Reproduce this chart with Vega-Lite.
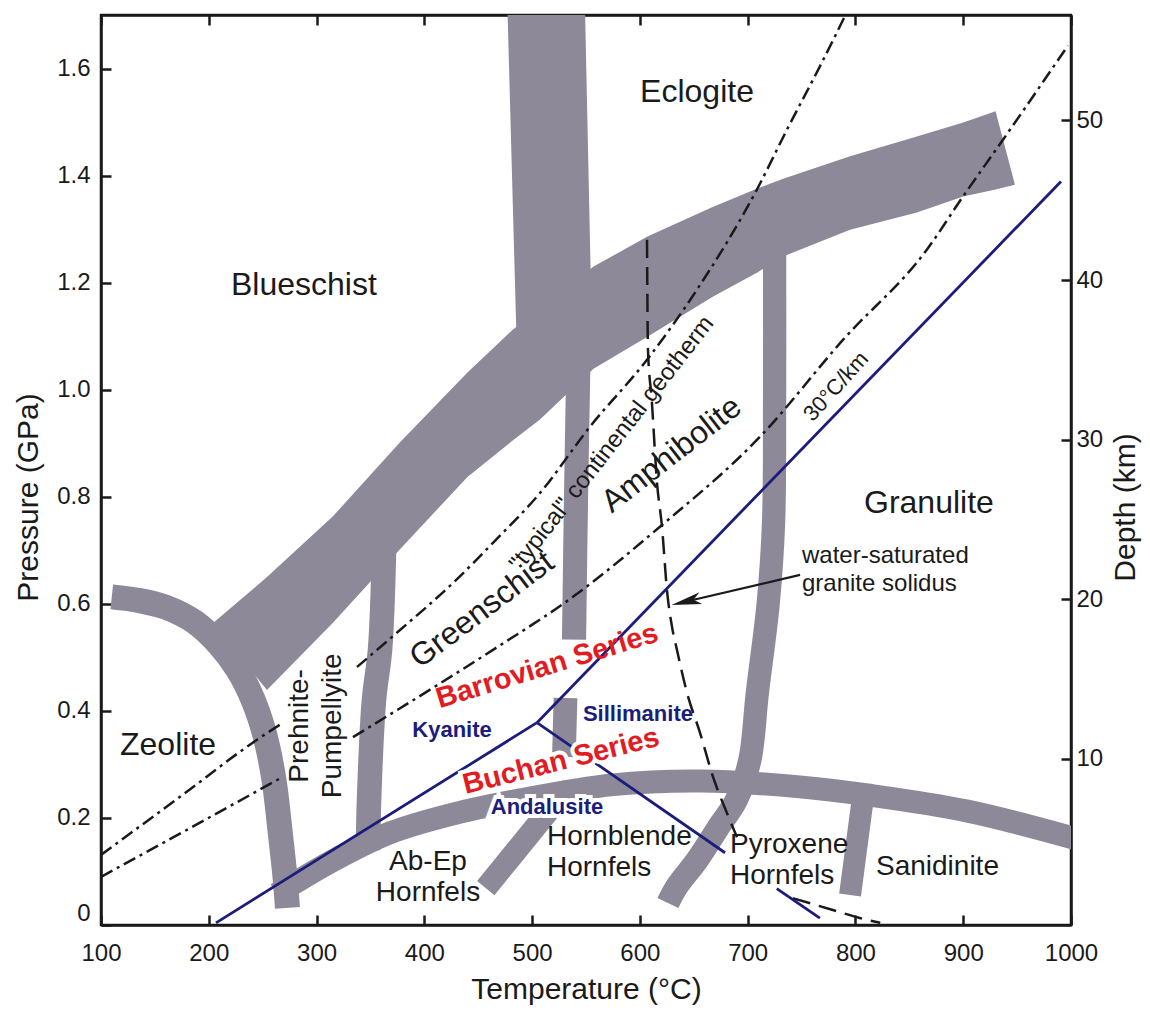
{
  "$schema": "https://vega.github.io/schema/vega-lite/v6.json",
  "width": 970,
  "height": 910,
  "autosize": {"type": "none"},
  "padding": {"left": 101, "top": 15, "right": 79, "bottom": 87},
  "background": "white",
  "config": {
    "view": {"stroke": "#1a1a1a", "strokeWidth": 2.5},
    "font": "Liberation Sans",
    "text": {"font": "Liberation Sans"}
  },
  "datasets": {
    "bigband": [
      {"T": 204, "lo": 0.564, "hi": 0.564},
      {"T": 254, "lo": 0.439, "hi": 0.650},
      {"T": 315, "lo": 0.564, "hi": 0.763},
      {"T": 377, "lo": 0.701, "hi": 0.901},
      {"T": 440, "lo": 0.837, "hi": 1.032},
      {"T": 482, "lo": 0.905, "hi": 1.112},
      {"T": 507, "lo": 0.944, "hi": 1.151},
      {"T": 557, "lo": 1.039, "hi": 1.230},
      {"T": 607, "lo": 1.099, "hi": 1.286},
      {"T": 668, "lo": 1.174, "hi": 1.342},
      {"T": 709, "lo": 1.219, "hi": 1.376},
      {"T": 733, "lo": 1.249, "hi": 1.394},
      {"T": 795, "lo": 1.299, "hi": 1.436},
      {"T": 857, "lo": 1.331, "hi": 1.473},
      {"T": 900, "lo": 1.361, "hi": 1.499},
      {"T": 930, "lo": 1.374, "hi": 1.520},
      {"T": 948, "lo": 1.383, "hi": 1.383}
    ],
    "eclband": [
      {"P": 1.72, "Tl": 477, "Tr": 549},
      {"P": 1.06, "Tl": 486, "Tr": 556}
    ],
    "bands": [
      {"b": "A", "T": 110, "P": 0.613},
      {"b": "A", "T": 136, "P": 0.606},
      {"b": "A", "T": 161, "P": 0.593},
      {"b": "A", "T": 187, "P": 0.566},
      {"b": "A", "T": 210, "P": 0.523},
      {"b": "A", "T": 227, "P": 0.477},
      {"b": "A", "T": 241, "P": 0.421},
      {"b": "A", "T": 252, "P": 0.355},
      {"b": "A", "T": 260.5, "P": 0.271},
      {"b": "A", "T": 266, "P": 0.178},
      {"b": "A", "T": 271, "P": 0.084},
      {"b": "A", "T": 273, "P": 0.032},
      {"b": "B2", "T": 362.6, "P": 0.70},
      {"b": "B2", "T": 358.9, "P": 0.514},
      {"b": "B2", "T": 353.3, "P": 0.421},
      {"b": "B2", "T": 348.7, "P": 0.234},
      {"b": "B2", "T": 347.7, "P": 0.14},
      {"b": "C1", "T": 543, "P": 1.06},
      {"b": "C1", "T": 540.7, "P": 0.794},
      {"b": "C1", "T": 538.9, "P": 0.533},
      {"b": "C2", "T": 531, "P": 0.424},
      {"b": "C2", "T": 529.5, "P": 0.314},
      {"b": "D", "T": 725, "P": 1.27},
      {"b": "D", "T": 725, "P": 1.0},
      {"b": "D", "T": 724, "P": 0.75},
      {"b": "D", "T": 719, "P": 0.60},
      {"b": "D", "T": 709, "P": 0.434},
      {"b": "D", "T": 702, "P": 0.308},
      {"b": "D", "T": 689.6, "P": 0.234},
      {"b": "D", "T": 673, "P": 0.183},
      {"b": "D", "T": 653, "P": 0.121},
      {"b": "D", "T": 634, "P": 0.071},
      {"b": "D", "T": 626, "P": 0.041},
      {"b": "E", "T": 263, "P": 0.058},
      {"b": "E", "T": 315, "P": 0.120},
      {"b": "E", "T": 368, "P": 0.172},
      {"b": "E", "T": 424, "P": 0.206},
      {"b": "E", "T": 489, "P": 0.234},
      {"b": "E", "T": 575, "P": 0.262},
      {"b": "E", "T": 656, "P": 0.269},
      {"b": "E", "T": 748.5, "P": 0.258},
      {"b": "E", "T": 811, "P": 0.243},
      {"b": "E", "T": 903.5, "P": 0.213},
      {"b": "E", "T": 1003, "P": 0.162},
      {"b": "F", "T": 457, "P": 0.069},
      {"b": "F", "T": 516, "P": 0.215},
      {"b": "G", "T": 807, "P": 0.239},
      {"b": "G", "T": 795, "P": 0.056}
    ],
    "geo": [
      {"g": "typical_a", "T": 100, "P": 0.131},
      {"g": "typical_a", "T": 173, "P": 0.239},
      {"g": "typical_a", "T": 244.7, "P": 0.346},
      {"g": "typical_a", "T": 268.9, "P": 0.378},
      {"g": "typical_b", "T": 337.5, "P": 0.482},
      {"g": "typical_b", "T": 377.4, "P": 0.551},
      {"g": "typical_b", "T": 426.6, "P": 0.639},
      {"g": "typical_b", "T": 463.7, "P": 0.714},
      {"g": "typical_b", "T": 507.3, "P": 0.807},
      {"g": "typical_b", "T": 553.7, "P": 0.931},
      {"g": "typical_b", "T": 606.6, "P": 1.056},
      {"g": "typical_b", "T": 653, "P": 1.187},
      {"g": "typical_b", "T": 708.6, "P": 1.374},
      {"g": "typical_b", "T": 736.5, "P": 1.486},
      {"g": "typical_b", "T": 767, "P": 1.604},
      {"g": "typical_b", "T": 792, "P": 1.705},
      {"g": "g30_a", "T": 100, "P": 0.090},
      {"g": "g30_a", "T": 182.6, "P": 0.181},
      {"g": "g30_a", "T": 268.9, "P": 0.277},
      {"g": "g30_b", "T": 333.8, "P": 0.351},
      {"g": "g30_b", "T": 408, "P": 0.443},
      {"g": "g30_b", "T": 463.7, "P": 0.514},
      {"g": "g30_b", "T": 537.9, "P": 0.613},
      {"g": "g30_b", "T": 618.6, "P": 0.744},
      {"g": "g30_b", "T": 711.4, "P": 0.912},
      {"g": "g30_b", "T": 788.4, "P": 1.093},
      {"g": "g30_b", "T": 866.4, "P": 1.262},
      {"g": "g30_b", "T": 899.8, "P": 1.361},
      {"g": "g30_b", "T": 936.9, "P": 1.467},
      {"g": "g30_b", "T": 997.2, "P": 1.643}
    ],
    "sol": [
      {"s": "a", "T": 606.6, "P": 1.280},
      {"s": "a", "T": 607.5, "P": 1.075},
      {"s": "a", "T": 611, "P": 0.981},
      {"s": "a", "T": 615.9, "P": 0.826},
      {"s": "a", "T": 620.5, "P": 0.744},
      {"s": "a", "T": 625.1, "P": 0.626},
      {"s": "a", "T": 629.8, "P": 0.557},
      {"s": "a", "T": 634.4, "P": 0.514},
      {"s": "a", "T": 643.7, "P": 0.434},
      {"s": "a", "T": 655.8, "P": 0.359},
      {"s": "a", "T": 667.8, "P": 0.277},
      {"s": "a", "T": 680.8, "P": 0.209},
      {"s": "a", "T": 690.1, "P": 0.164},
      {"s": "b", "T": 742, "P": 0.050},
      {"s": "b", "T": 779, "P": 0.028},
      {"s": "b", "T": 804, "P": 0.013},
      {"s": "b", "T": 823, "P": 0.004}
    ],
    "alsi": [
      {"seg": "KA", "T": 206.7, "P": 0.004},
      {"seg": "KA", "T": 504.5, "P": 0.378},
      {"seg": "KS", "T": 504.5, "P": 0.378},
      {"seg": "KS", "T": 990.7, "P": 1.389},
      {"seg": "AS1", "T": 504.5, "P": 0.378},
      {"seg": "AS1", "T": 679, "P": 0.135},
      {"seg": "AS2", "T": 727, "P": 0.068},
      {"seg": "AS2", "T": 767, "P": 0.013}
    ],
    "arrow": [
      {"T": 748.6, "P": 0.654},
      {"T": 640, "P": 0.603}
    ],
    "arrowhead": [
      {"T": 629.4, "P": 0.598}
    ],
    "labels": [
      {"id": "Blueschist", "T": 288.3, "P": 1.196, "text": "Blueschist"},
      {"id": "Eclogite", "T": 653, "P": 1.557, "text": "Eclogite"},
      {"id": "Zeolite", "T": 162.2, "P": 0.336, "text": "Zeolite"},
      {"id": "Granulite", "T": 868.2, "P": 0.789, "text": "Granulite"},
      {"id": "Greenschist", "T": 453.5, "P": 0.589, "text": "Greenschist"},
      {"id": "Amphibolite", "T": 629.3, "P": 0.879, "text": "Amphibolite"},
      {"id": "Prehnite", "T": 285, "P": 0.372, "text": "Prehnite-\nPumpellyite"},
      {"id": "AbEp", "T": 403.4, "P": 0.118, "text": "Ab-Ep\nHornfels"},
      {"id": "Hornblende", "T": 513.8, "P": 0.1645, "text": "Hornblende\nHornfels"},
      {"id": "Pyroxene", "T": 683.6, "P": 0.1495, "text": "Pyroxene\nHornfels"},
      {"id": "Sanidinite", "T": 876.1, "P": 0.108, "text": "Sanidinite"},
      {"id": "water", "T": 750.4, "P": 0.6897, "text": "water-saturated\ngranite solidus"},
      {"id": "gradient", "T": 781.9, "P": 1.006, "text": "30°C/km"},
      {"id": "typical", "T": 574, "P": 0.899, "text": "\"typical\" continental geotherm"},
      {"id": "Barrovian", "T": 513.8, "P": 0.484, "text": "Barrovian Series"},
      {"id": "Buchan", "T": 526.8, "P": 0.3065, "text": "Buchan Series"},
      {"id": "Kyanite", "T": 425.7, "P": 0.3645, "text": "Kyanite"},
      {"id": "Sillimanite", "T": 598.2, "P": 0.3944, "text": "Sillimanite"},
      {"id": "Andalusite", "T": 513.8, "P": 0.2206, "text": "Andalusite"}
    ]
  },
  "layer": [
    {
      "data": {"name": "bigband"},
      "mark": {"type": "area", "color": "#8e8998", "clip": true, "interpolate": "linear"},
      "encoding": {
        "x": {"field": "T", "type": "quantitative", "scale": {"domain": [100, 1000], "nice": false, "zero": false},
          "axis": {"orient": "bottom", "title": "Temperature (°C)", "values": [100, 200, 300, 400, 500, 600, 700, 800, 900, 1000], "format": "d",
            "tickSize": -10, "tickWidth": 2.5, "tickColor": "#1a1a1a", "domain": true, "domainColor": "#1a1a1a", "domainWidth": 2.5,
            "labelFontSize": 24, "labelColor": "#1a1a1a", "labelPadding": 26, "labelFont": "Liberation Sans", "labelFlush": false, "labelOverlap": false,
            "titleFont": "Liberation Sans", "titleFontSize": 30, "titleFontWeight": "normal", "titleColor": "#1a1a1a", "titlePadding": 9, "grid": false}},
        "y": {"field": "lo", "type": "quantitative", "scale": {"domain": [0, 1.7], "nice": false, "zero": false},
          "axis": {"orient": "left", "title": "Pressure (GPa)", "values": [0, 0.2, 0.4, 0.6, 0.8, 1.0, 1.2, 1.4, 1.6],
            "labelExpr": "datum.value == 0 ? '0' : format(datum.value, '.1f')",
            "tickSize": -10, "tickWidth": 2.5, "tickColor": "#1a1a1a", "domain": true, "domainColor": "#1a1a1a", "domainWidth": 2.5,
            "labelFontSize": 24, "labelColor": "#1a1a1a", "labelPadding": 21, "labelFont": "Liberation Sans", "labelFlush": true, "labelOverlap": false,
            "titleFont": "Liberation Sans", "titleFontSize": 30, "titleFontWeight": "normal", "titleColor": "#1a1a1a", "titlePadding": 13, "titleY": 482, "grid": false}},
        "y2": {"field": "hi"}
      }
    },
    {
      "data": {"name": "eclband"},
      "mark": {"type": "area", "orient": "horizontal", "color": "#8e8998", "clip": true},
      "encoding": {
        "y": {"field": "P", "type": "quantitative", "scale": {"domain": [0, 1.7], "nice": false, "zero": false}, "axis": null},
        "x": {"field": "Tl", "type": "quantitative", "scale": {"domain": [100, 1000], "nice": false, "zero": false}, "axis": null},
        "x2": {"field": "Tr"}
      }
    },
    {
      "data": {"name": "bands"},
      "mark": {"type": "line", "color": "#8e8998", "strokeCap": "butt", "strokeJoin": "round", "interpolate": "catmull-rom", "clip": true},
      "encoding": {
        "x": {"field": "T", "type": "quantitative", "scale": {"domain": [100, 1000], "nice": false, "zero": false}, "axis": null},
        "y": {"field": "P", "type": "quantitative", "scale": {"domain": [0, 1.7], "nice": false, "zero": false}, "axis": null},
        "detail": {"field": "b"},
        "strokeWidth": {"field": "b", "type": "ordinal", "scale": {"domain": ["A", "B2", "C1", "C2", "D", "E", "F", "G"], "range": [25, 22, 20, 20, 28, 26, 20, 21]}, "legend": null},
        "order": {"value": null}
      }
    },
    {
      "data": {"name": "geo"},
      "mark": {"type": "line", "color": "#1a1a1a", "strokeWidth": 2.5, "strokeDash": [13, 5, 3, 5], "interpolate": "monotone", "clip": true},
      "encoding": {
        "x": {"field": "T", "type": "quantitative", "scale": {"domain": [100, 1000], "nice": false, "zero": false}, "axis": null},
        "y": {"field": "P", "type": "quantitative", "scale": {"domain": [0, 1.7], "nice": false, "zero": false}, "axis": null},
        "detail": {"field": "g"}
      }
    },
    {
      "data": {"name": "sol"},
      "mark": {"type": "line", "color": "#1a1a1a", "strokeWidth": 2.5, "strokeDash": [18, 9], "interpolate": "monotone", "clip": true},
      "encoding": {
        "x": {"field": "T", "type": "quantitative", "scale": {"domain": [100, 1000], "nice": false, "zero": false}, "axis": null},
        "y": {"field": "P", "type": "quantitative", "scale": {"domain": [0, 1.7], "nice": false, "zero": false}, "axis": null},
        "detail": {"field": "s"}
      }
    },
    {
      "data": {"name": "alsi"},
      "mark": {"type": "line", "color": "#1c1c7c", "strokeWidth": 2.8, "clip": true},
      "encoding": {
        "x": {"field": "T", "type": "quantitative", "scale": {"domain": [100, 1000], "nice": false, "zero": false}, "axis": null},
        "y": {"field": "P", "type": "quantitative", "scale": {"domain": [0, 1.7], "nice": false, "zero": false}, "axis": null},
        "detail": {"field": "seg"}
      }
    },
    {
      "data": {"name": "arrow"},
      "mark": {"type": "line", "color": "#1a1a1a", "strokeWidth": 2.2},
      "encoding": {
        "x": {"field": "T", "type": "quantitative", "scale": {"domain": [100, 1000], "nice": false, "zero": false}, "axis": null},
        "y": {"field": "P", "type": "quantitative", "scale": {"domain": [0, 1.7], "nice": false, "zero": false}, "axis": null}
      }
    },
    {
      "data": {"name": "arrowhead"},
      "mark": {"type": "point", "shape": "M 0 0 L 2 -0.4 L 1.5 0 L 2 0.4 Z", "filled": true, "color": "#1a1a1a", "opacity": 1, "size": 900, "angle": -13},
      "encoding": {
        "x": {"field": "T", "type": "quantitative", "scale": {"domain": [100, 1000], "nice": false, "zero": false}, "axis": null},
        "y": {"field": "P", "type": "quantitative", "scale": {"domain": [0, 1.7], "nice": false, "zero": false}, "axis": null}
      }
    },
    {
      "data": {"name": "labels"},
      "transform": [{"filter": {"field": "id", "oneOf": ["Blueschist", "Eclogite", "Zeolite", "Granulite"]}}],
      "mark": {"type": "text", "fontSize": 32, "color": "#1a1a1a", "align": "center", "baseline": "middle"},
      "encoding": {
        "x": {"field": "T", "type": "quantitative", "scale": {"domain": [100, 1000], "nice": false, "zero": false}, "axis": null},
        "y": {"field": "P", "type": "quantitative", "scale": {"domain": [0, 1.7], "nice": false, "zero": false}, "axis": null},
        "text": {"field": "text"}
      }
    },
    {
      "data": {"name": "labels"},
      "transform": [{"filter": {"field": "id", "equal": "Greenschist"}}],
      "mark": {"type": "text", "fontSize": 32, "color": "#1a1a1a", "align": "center", "baseline": "middle", "angle": -37},
      "encoding": {
        "x": {"field": "T", "type": "quantitative", "scale": {"domain": [100, 1000], "nice": false, "zero": false}, "axis": null},
        "y": {"field": "P", "type": "quantitative", "scale": {"domain": [0, 1.7], "nice": false, "zero": false}, "axis": null},
        "text": {"field": "text"}
      }
    },
    {
      "data": {"name": "labels"},
      "transform": [{"filter": {"field": "id", "equal": "Amphibolite"}}],
      "mark": {"type": "text", "fontSize": 32, "color": "#1a1a1a", "align": "center", "baseline": "middle", "angle": -38},
      "encoding": {
        "x": {"field": "T", "type": "quantitative", "scale": {"domain": [100, 1000], "nice": false, "zero": false}, "axis": null},
        "y": {"field": "P", "type": "quantitative", "scale": {"domain": [0, 1.7], "nice": false, "zero": false}, "axis": null},
        "text": {"field": "text"}
      }
    },
    {
      "data": {"name": "labels"},
      "transform": [{"filter": {"field": "id", "equal": "Prehnite"}}],
      "mark": {"type": "text", "fontSize": 28, "color": "#1a1a1a", "align": "center", "baseline": "middle", "angle": -90, "lineBreak": "\n", "lineHeight": 33},
      "encoding": {
        "x": {"field": "T", "type": "quantitative", "scale": {"domain": [100, 1000], "nice": false, "zero": false}, "axis": null},
        "y": {"field": "P", "type": "quantitative", "scale": {"domain": [0, 1.7], "nice": false, "zero": false}, "axis": null},
        "text": {"field": "text"}
      }
    },
    {
      "data": {"name": "labels"},
      "transform": [{"filter": {"field": "id", "oneOf": ["AbEp", "Sanidinite"]}}],
      "mark": {"type": "text", "fontSize": 28, "color": "#1a1a1a", "align": "center", "baseline": "middle", "lineBreak": "\n", "lineHeight": 31},
      "encoding": {
        "x": {"field": "T", "type": "quantitative", "scale": {"domain": [100, 1000], "nice": false, "zero": false}, "axis": null},
        "y": {"field": "P", "type": "quantitative", "scale": {"domain": [0, 1.7], "nice": false, "zero": false}, "axis": null},
        "text": {"field": "text"}
      }
    },
    {
      "data": {"name": "labels"},
      "transform": [{"filter": {"field": "id", "oneOf": ["Hornblende", "Pyroxene"]}}],
      "mark": {"type": "text", "fontSize": 28, "color": "#1a1a1a", "align": "left", "baseline": "middle", "lineBreak": "\n", "lineHeight": 31},
      "encoding": {
        "x": {"field": "T", "type": "quantitative", "scale": {"domain": [100, 1000], "nice": false, "zero": false}, "axis": null},
        "y": {"field": "P", "type": "quantitative", "scale": {"domain": [0, 1.7], "nice": false, "zero": false}, "axis": null},
        "text": {"field": "text"}
      }
    },
    {
      "data": {"name": "labels"},
      "transform": [{"filter": {"field": "id", "equal": "water"}}],
      "mark": {"type": "text", "fontSize": 24, "color": "#1a1a1a", "align": "left", "baseline": "middle", "lineBreak": "\n", "lineHeight": 28},
      "encoding": {
        "x": {"field": "T", "type": "quantitative", "scale": {"domain": [100, 1000], "nice": false, "zero": false}, "axis": null},
        "y": {"field": "P", "type": "quantitative", "scale": {"domain": [0, 1.7], "nice": false, "zero": false}, "axis": null},
        "text": {"field": "text"}
      }
    },
    {
      "data": {"name": "labels"},
      "transform": [{"filter": {"field": "id", "equal": "gradient"}}],
      "mark": {"type": "text", "fontSize": 22, "color": "#1a1a1a", "align": "center", "baseline": "middle", "angle": -48},
      "encoding": {
        "x": {"field": "T", "type": "quantitative", "scale": {"domain": [100, 1000], "nice": false, "zero": false}, "axis": null},
        "y": {"field": "P", "type": "quantitative", "scale": {"domain": [0, 1.7], "nice": false, "zero": false}, "axis": null},
        "text": {"field": "text"}
      }
    },
    {
      "data": {"name": "labels"},
      "transform": [{"filter": {"field": "id", "equal": "typical"}}],
      "mark": {"type": "text", "fontSize": 24, "color": "#1a1a1a", "align": "center", "baseline": "middle", "angle": -52},
      "encoding": {
        "x": {"field": "T", "type": "quantitative", "scale": {"domain": [100, 1000], "nice": false, "zero": false}, "axis": null},
        "y": {"field": "P", "type": "quantitative", "scale": {"domain": [0, 1.7], "nice": false, "zero": false}, "axis": null},
        "text": {"field": "text"}
      }
    },
    {
      "data": {"name": "labels"},
      "transform": [{"filter": {"field": "id", "equal": "Barrovian"}}],
      "mark": {"type": "text", "fontSize": 29, "fontWeight": "bold", "color": "#e31b23", "align": "center", "baseline": "middle", "angle": -17},
      "encoding": {
        "x": {"field": "T", "type": "quantitative", "scale": {"domain": [100, 1000], "nice": false, "zero": false}, "axis": null},
        "y": {"field": "P", "type": "quantitative", "scale": {"domain": [0, 1.7], "nice": false, "zero": false}, "axis": null},
        "text": {"field": "text"}
      }
    },
    {
      "data": {"name": "labels"},
      "transform": [{"filter": {"field": "id", "equal": "Buchan"}}],
      "mark": {"type": "text", "fontSize": 29, "fontWeight": "bold", "color": "white", "stroke": "white", "strokeWidth": 8, "align": "center", "baseline": "middle", "angle": -14},
      "encoding": {
        "x": {"field": "T", "type": "quantitative", "scale": {"domain": [100, 1000], "nice": false, "zero": false}, "axis": null},
        "y": {"field": "P", "type": "quantitative", "scale": {"domain": [0, 1.7], "nice": false, "zero": false}, "axis": null},
        "text": {"field": "text"}
      }
    },
    {
      "data": {"name": "labels"},
      "transform": [{"filter": {"field": "id", "equal": "Buchan"}}],
      "mark": {"type": "text", "fontSize": 29, "fontWeight": "bold", "color": "#e31b23", "align": "center", "baseline": "middle", "angle": -14},
      "encoding": {
        "x": {"field": "T", "type": "quantitative", "scale": {"domain": [100, 1000], "nice": false, "zero": false}, "axis": null},
        "y": {"field": "P", "type": "quantitative", "scale": {"domain": [0, 1.7], "nice": false, "zero": false}, "axis": null},
        "text": {"field": "text"}
      }
    },
    {
      "data": {"name": "labels"},
      "transform": [{"filter": {"field": "id", "equal": "Andalusite"}}],
      "mark": {"type": "text", "fontSize": 22, "fontWeight": "bold", "color": "white", "stroke": "white", "strokeWidth": 8, "align": "center", "baseline": "middle"},
      "encoding": {
        "x": {"field": "T", "type": "quantitative", "scale": {"domain": [100, 1000], "nice": false, "zero": false}, "axis": null},
        "y": {"field": "P", "type": "quantitative", "scale": {"domain": [0, 1.7], "nice": false, "zero": false}, "axis": null},
        "text": {"field": "text"}
      }
    },
    {
      "data": {"name": "labels"},
      "transform": [{"filter": {"field": "id", "oneOf": ["Kyanite", "Sillimanite", "Andalusite"]}}],
      "mark": {"type": "text", "fontSize": 22, "fontWeight": "bold", "color": "#1c1c7c", "align": "center", "baseline": "middle"},
      "encoding": {
        "x": {"field": "T", "type": "quantitative", "scale": {"domain": [100, 1000], "nice": false, "zero": false}, "axis": null},
        "y": {"field": "P", "type": "quantitative", "scale": {"domain": [0, 1.7], "nice": false, "zero": false}, "axis": null},
        "text": {"field": "text"}
      }
    },
    {
      "data": {"values": [{"T": 100, "depth": -0.4}, {"T": 1000, "depth": 56.6}]},
      "mark": {"type": "point", "opacity": 0},
      "encoding": {
        "x": {"field": "T", "type": "quantitative", "scale": {"domain": [100, 1000], "nice": false, "zero": false},
          "axis": {"orient": "top", "title": null, "labels": false, "values": [100, 200, 300, 400, 500, 600, 700, 800, 900, 1000],
            "tickSize": -10, "tickWidth": 2.5, "tickColor": "#1a1a1a", "domain": true, "domainColor": "#1a1a1a", "domainWidth": 2.5, "grid": false}},
        "y": {"field": "depth", "type": "quantitative", "scale": {"domain": [-0.4, 56.6], "nice": false, "zero": false},
          "axis": {"orient": "right", "title": "Depth (km)", "values": [10, 20, 30, 40, 50],
            "tickSize": -10, "tickWidth": 2.5, "tickColor": "#1a1a1a", "domain": true, "domainColor": "#1a1a1a", "domainWidth": 2.5,
            "labelFontSize": 24, "labelColor": "#1a1a1a", "labelPadding": 15, "labelFont": "Liberation Sans", "labelOverlap": false,
            "titleFont": "Liberation Sans", "titleFontSize": 30, "titleFontWeight": "normal", "titleColor": "#1a1a1a", "titlePadding": 8, "titleAngle": 270, "titleBaseline": "top", "titleY": 492, "grid": false}}
      }
    }
  ],
  "resolve": {"scale": {"y": "independent"}, "axis": {"x": "independent", "y": "independent"}}
}
